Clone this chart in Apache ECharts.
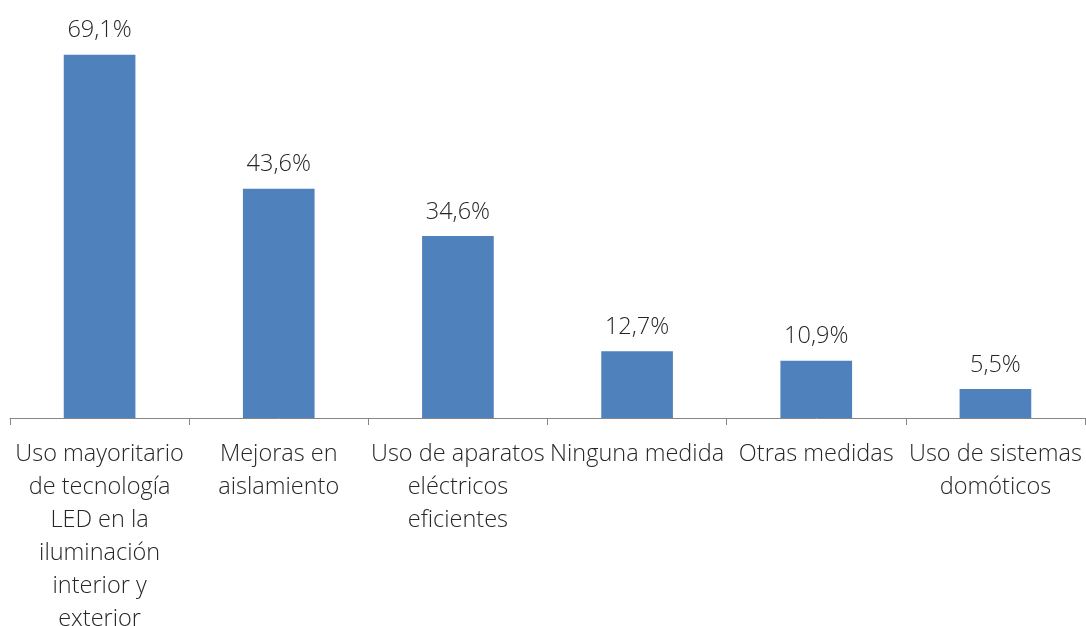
<!DOCTYPE html>
<html>
<head>
<meta charset="utf-8">
<script src="https://cdn.jsdelivr.net/npm/echarts@6/dist/echarts.min.js"></script>
<style>
html,body{margin:0;padding:0;background:#fff;}
#chart{width:1086px;height:626px;}
</style>
</head>
<body>
<div id="chart"></div>
<script>
const categories = [
  "Uso mayoritario\nde tecnología\nLED en la\niluminación\ninterior y\nexterior",
  "Mejoras en\naislamiento",
  "Uso de aparatos\neléctricos\neficientes",
  "Ninguna medida",
  "Otras medidas",
  "Uso de sistemas\ndomóticos"
];
const values = [69.1, 43.6, 34.6, 12.7, 10.9, 5.5];

const chart = echarts.init(document.getElementById('chart'));
chart.setOption({
  animation: false,
  grid: { left: 10, right: 1, top: 50, bottom: 208, containLabel: false, outerBoundsMode: 'none' },
  xAxis: {
    type: 'category',
    data: categories,
    axisLine: { lineStyle: { color: '#868686', width: 1 } },
    axisTick: { show: true, length: 7, lineStyle: { color: '#868686' } },
    axisLabel: {
      interval: 0,
      margin: 20,
      color: '#262626',
      fontFamily: 'Open Sans',
      fontWeight: 300,
      fontSize: 23.5,
      lineHeight: 33
    }
  },
  yAxis: {
    type: 'value',
    min: 0,
    max: 70,
    show: false,
    splitLine: { show: false }
  },
  series: [{
    type: 'bar',
    data: values,
    barWidth: '40%',
    itemStyle: { color: '#4F81BD' },
    label: {
      show: true,
      position: 'top',
      distance: 12,
      color: '#262626',
      fontFamily: 'Open Sans',
      fontWeight: 300,
      fontSize: 23.5,
      formatter: p => p.value.toFixed(1).replace('.', ',') + '%'
    }
  }]
});
</script>
</body>
</html>
